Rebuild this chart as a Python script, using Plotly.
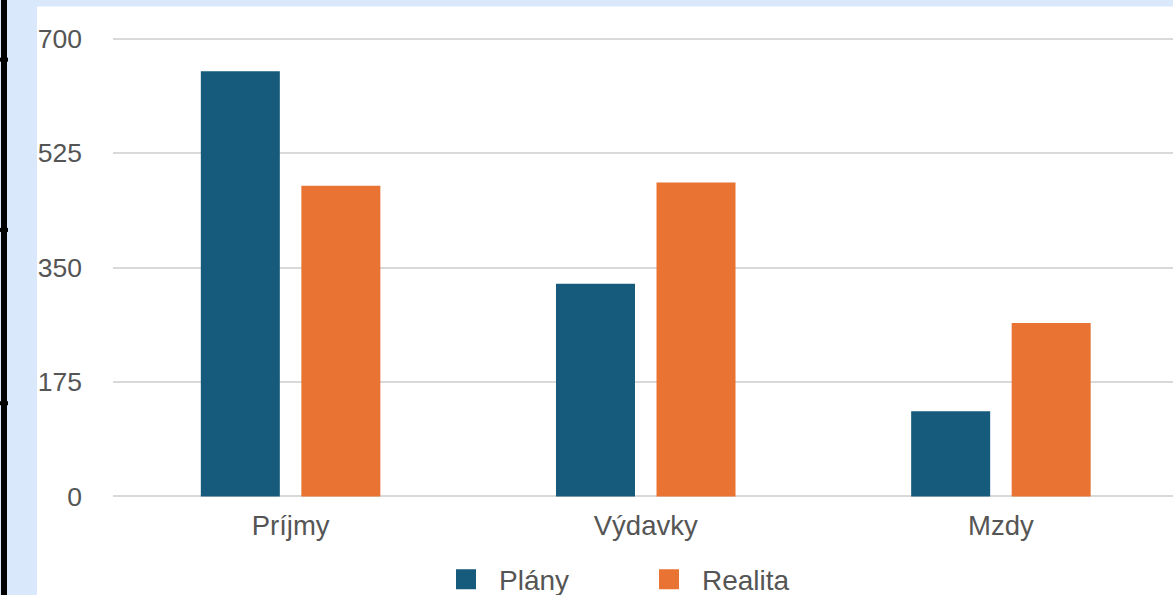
import plotly.graph_objects as go

categories = ["Príjmy", "Výdavky", "Mzdy"]
plany = [650, 325, 130]
realita = [475, 480, 265]
series_names = ["Plány", "Realita"]
tick_vals = [0, 175, 350, 525, 700]
tick_text = ["0", "175", "350", "525", "700"]

BLUE = "#165b7c"
ORANGE = "#e87333"
FRAME = "#d9e9fb"

W, H = 1173, 595
Y_LO, Y_HI = -4, 704
ML, MR = 113, 0
PX0, PX700 = 496, 39
scale = (PX0 - PX700) / 700.0
MT = PX700 - (Y_HI - 700) * scale
MB = H - (PX0 + (0 - Y_LO) * scale)
PW, PH = W - ML - MR, H - MT - MB

def px_x(p):
    return (p - ML) / PW

def px_y(p):
    return (H - MB - p) / PH

fig = go.Figure()
fig.add_trace(go.Bar(x=categories, y=plany, name=series_names[0], marker=dict(color=BLUE, line=dict(width=0)), showlegend=False))
fig.add_trace(go.Bar(x=categories, y=realita, name=series_names[1], marker=dict(color=ORANGE, line=dict(width=0)), showlegend=False))
for name, col in zip(series_names, [BLUE, ORANGE]):
    fig.add_trace(go.Scatter(x=[None], y=[None], mode="markers", name=name,
                             marker=dict(symbol="square", size=16, color=col, line=dict(color=col, width=4))))

shapes = [
    dict(type="rect", xref="paper", yref="paper", x0=px_x(37), x1=px_x(1180), y0=px_y(7), y1=px_y(600),
         fillcolor="white", line=dict(width=0), layer="below"),
    dict(type="line", xref="paper", yref="paper", x0=px_x(4), x1=px_x(4), y0=px_y(-5), y1=px_y(600),
         line=dict(color="black", width=6), layer="above"),
]
for ty in [60, 230, 403]:
    shapes.append(dict(type="rect", xref="paper", yref="paper", x0=px_x(0), x1=px_x(8), y0=px_y(ty + 2), y1=px_y(ty - 2),
                       fillcolor="black", line=dict(width=0), layer="above"))

fig.update_layout(
    width=W, height=H,
    margin=dict(l=ML, r=MR, t=MT, b=MB, autoexpand=False),
    paper_bgcolor=FRAME,
    plot_bgcolor="rgba(0,0,0,0)",
    barmode="group",
    bargap=0.434,
    bargroupgap=0.214,
    font=dict(family="Liberation Sans, Arial, sans-serif", color="#555555"),
    xaxis=dict(range=[-0.5, 2.4845], showgrid=False, zeroline=False, showline=False,
               tickfont=dict(size=27.5, color="#555555"), ticks="", ticklabelstandoff=7),
    yaxis=dict(range=[Y_LO, Y_HI], tickvals=tick_vals, ticktext=tick_text, showgrid=True,
               gridcolor="#d9d9d9", gridwidth=2, zeroline=False, showline=False,
               tickfont=dict(size=26.5, color="#555555"), ticklabelstandoff=30),
    legend=dict(orientation="h", x=px_x(433), xanchor="left", y=px_y(579), yanchor="middle",
                font=dict(size=28, color="#555555"), bgcolor="rgba(0,0,0,0)",
                entrywidth=132, entrywidthmode="pixels", itemwidth=56),
    shapes=shapes,
)

fig.write_html("out.html", config={"displayModeBar": False},
               post_script="document.body.style.margin='0';document.body.style.overflow='hidden';")
